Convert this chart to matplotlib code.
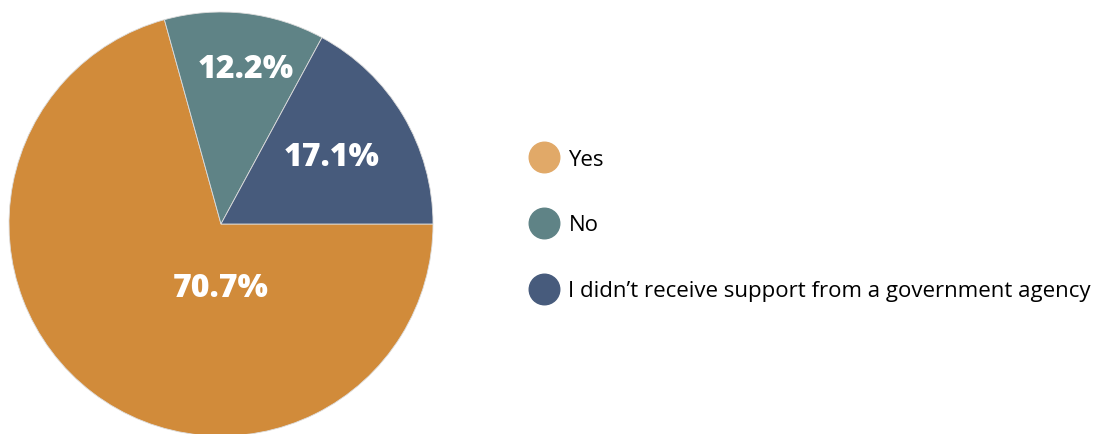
import matplotlib
matplotlib.use("Agg")
import matplotlib.pyplot as plt
from matplotlib.lines import Line2D
import numpy as np

# data
labels = ["Yes", "No", "I didn\u2019t receive support from a government agency"]
values = [70.7, 12.2, 17.1]
pie_colors = ["#D18B3A", "#5F8386", "#475B7C"]
legend_colors = ["#E1A968", "#5F8386", "#475B7C"]
# where the % labels sit: (angle in degrees or None for mid-wedge, radius fraction)
label_pos = [(-90, 0.30), (81, 0.74), (31, 0.61)]

plt.rcParams["font.family"] = ["Open Sans", "DejaVu Sans"]

W, H = 1097, 435
fig = plt.figure(figsize=(W / 100, H / 100), dpi=100)

# pie axes: centre (221, 225) px from top-left, radius 212 px
cx, cy, r = 221, 225, 212
ax = fig.add_axes([(cx - r) / W, (H - cy - r) / H, 2 * r / W, 2 * r / H])
wedges, _ = ax.pie(values, colors=pie_colors, startangle=0, counterclock=False,
                   radius=1, wedgeprops=dict(linewidth=0.6, edgecolor="#dddddd"))
ax.set_xlim(-1, 1)
ax.set_ylim(-1, 1)
ax.set_aspect("equal")
ax.axis("off")

for w, v, (a, d) in zip(wedges, values, label_pos):
    if a is None:
        a = (w.theta1 + w.theta2) / 2
    ang = np.deg2rad(a)
    ax.text(d * np.cos(ang), d * np.sin(ang), f"{v:.1f}%", ha="center", va="center",
            color="white", fontsize=23, fontweight=800)

handles = [Line2D([], [], marker="o", linestyle="none", markersize=22,
                  markerfacecolor=c, markeredgecolor=c) for c in legend_colors]
fig.legend(handles, labels, loc="center left", bbox_to_anchor=(518 / W, 1 - 226 / H),
           frameon=False, fontsize=16, labelspacing=2.02, handletextpad=0.42,
           handlelength=1.35, borderpad=0)

fig.savefig("out.png", dpi=100, facecolor="white")
